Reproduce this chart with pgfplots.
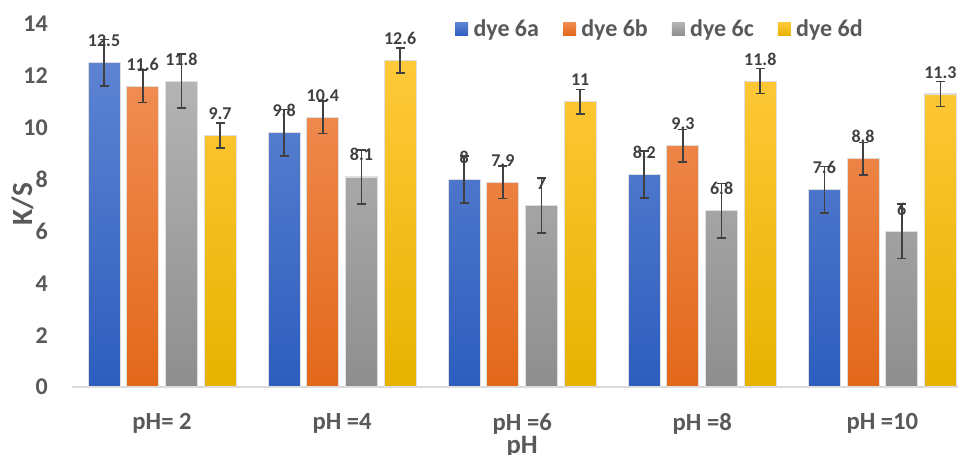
\documentclass[border=0pt]{standalone}
\usepackage{pgfplots}
\pgfplotsset{compat=1.18}
\usepackage{fontspec}
\setmainfont{Carlito}
\usetikzlibrary{calc}
\definecolor{txt}{HTML}{595959}
\definecolor{lbl}{HTML}{404040}
\definecolor{bluet}{HTML}{5D84D2}
\definecolor{blueb}{HTML}{2E5DBE}
\definecolor{oranget}{HTML}{F08C52}
\definecolor{orangeb}{HTML}{E2681A}
\definecolor{grayt}{HTML}{B4B4B4}
\definecolor{grayb}{HTML}{8E8E8E}
\definecolor{yellowt}{HTML}{FFC93A}
\definecolor{yellowb}{HTML}{E6B300}
\definecolor{axisgray}{HTML}{D9D9D9}
\begin{document}
\begin{tikzpicture}
\begin{axis}[
  name=ax,
  scale only axis,
  width=664.5pt, height=272.25pt,
  ybar=5pt, bar width=24pt,
  xmin=-0.5, xmax=4.42,
  ymin=0, ymax=14,
  ytick={0,2,...,14},
  xtick={0,1,2,3,4},
  xticklabels={pH= 2, pH =4, pH =6, pH =8, pH =10},
  major tick length=0pt,
  axis y line*=left,
  y axis line style={draw=none},
  axis x line*=bottom,
  x axis line style={draw=axisgray, line width=1.2pt, -},
  /pgf/number format/assume math mode=true,
  ticklabel style={font=\fontsize{18}{20}\selectfont\bfseries, text=txt},
  yticklabel style={inner sep=0pt, xshift=-18pt, anchor=east},
  xticklabel style={inner sep=0pt, anchor=north, yshift=-19.5pt, font=\fontsize{18.5}{20}\selectfont\bfseries},
  xlabel={pH},
  xlabel style={at={(axis description cs:0.508,0)}, anchor=north, yshift=-37pt, inner sep=0pt, font=\fontsize{20}{22}\selectfont\bfseries, text=txt},
  ylabel={K/S},
  ylabel style={at={(axis description cs:-0.0553,0.504)}, anchor=center, inner sep=0pt, font=\fontsize{22}{24}\selectfont\bfseries, text=txt},
  legend columns=4,
  legend style={at={(axis description cs:0.664,0.986)}, anchor=center, draw=none, fill=none,
     font=\fontsize{18}{20}\selectfont\bfseries, text=txt,
     /tikz/every even column/.append style={column sep=16pt},
     /tikz/every odd column/.append style={column sep=2pt}},
  legend image code/.code={\path[#1,draw=none] (0pt,-4.9pt) rectangle (9.75pt,4.9pt);},
  nodes near coords,
  nodes near coords style={font=\fontsize{13.5}{15}\selectfont\bfseries, text=lbl, anchor=south, inner sep=0pt, yshift=11.5pt},
  error bars/y dir=both,
  error bars/y explicit,
  error bars/error bar style={draw=lbl, line width=1.2pt},
  error bars/error mark options={draw=lbl, line width=1.2pt, mark size=3.4pt, rotate=90},
  every axis plot/.append style={draw={rgb,255:red,222;green,222;blue,222}, line width=0.8pt},
]
\addplot[top color=bluet, bottom color=blueb] coordinates {(0,12.5)+-(0,0.9) (1,9.8)+-(0,0.9) (2,8)+-(0,0.9) (3,8.2)+-(0,0.9) (4,7.6)+-(0,0.9)};
\addplot[top color=oranget, bottom color=orangeb] coordinates {(0,11.6)+-(0,0.63) (1,10.4)+-(0,0.63) (2,7.9)+-(0,0.63) (3,9.3)+-(0,0.63) (4,8.8)+-(0,0.63)};
\addplot[top color=grayt, bottom color=grayb] coordinates {(0,11.8)+-(0,1.05) (1,8.1)+-(0,1.05) (2,7)+-(0,1.05) (3,6.8)+-(0,1.05) (4,6)+-(0,1.05)};
\addplot[top color=yellowt, bottom color=yellowb] coordinates {(0,9.7)+-(0,0.48) (1,12.6)+-(0,0.48) (2,11)+-(0,0.48) (3,11.8)+-(0,0.48) (4,11.3)+-(0,0.48)};
\legend{dye 6a, dye 6b, dye 6c, dye 6d}
\end{axis}
\pgfresetboundingbox
\path[use as bounding box] ($(ax.south west)+(-54pt,-50.25pt)$) rectangle ($(ax.north east)+(0pt,18pt)$);
\end{tikzpicture}
\end{document}
